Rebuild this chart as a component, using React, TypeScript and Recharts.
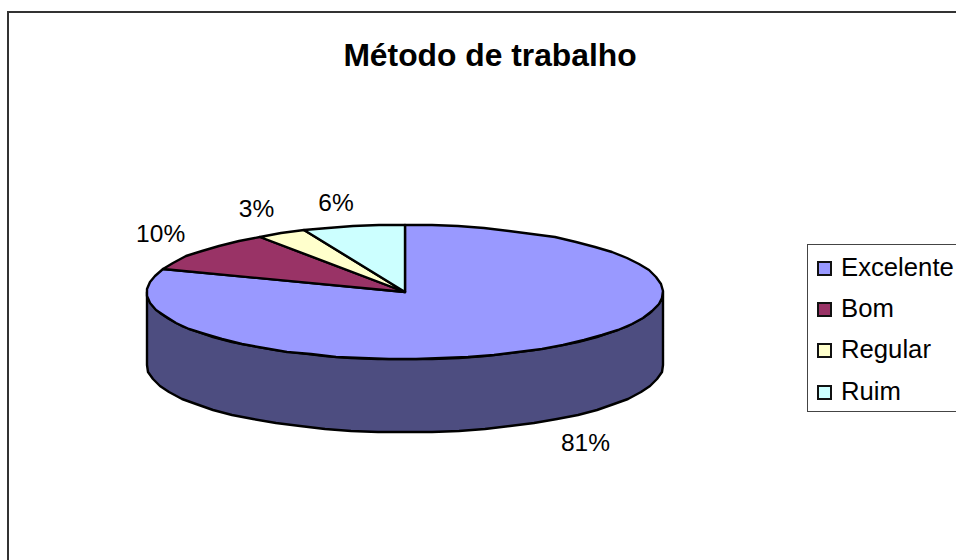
import React from "react";
import { PieChart, Pie, Cell, Legend } from "recharts";

const categories = ["Excelente", "Bom", "Regular", "Ruim"];
const values = [80.6, 9.9, 3.1, 6.4];
const topColors = ["#9999ff", "#993366", "#ffffcc", "#ccffff"];
const wallColors = ["#4d4d80", "#4d1a33", "#808066", "#668080"];
const title = "Método de trabalho";

const data = categories.map((name, i) => ({ name, value: values[i] }));

const FONT = "'Liberation Sans', Arial, sans-serif";
const RX = 258;
const RY = 67;
const DEPTH = 73;
const CX = 405;
const CY = 292;
const STEP = 6;
const EDGE = 2.4;

const rad = (a: number) => (a * Math.PI) / 180;
const pt = (cx: number, cy: number, a: number, dy = 0): [number, number] => [
  Math.round(cx + RX * Math.cos(rad(a))),
  Math.round(cy - RY * Math.sin(rad(a)) + dy),
];

function arc(cx: number, cy: number, from: number, to: number, dy = 0) {
  const out: [number, number][] = [];
  const n = Math.max(1, Math.ceil(Math.abs(to - from) / STEP));
  for (let i = 0; i <= n; i++) out.push(pt(cx, cy, from + ((to - from) * i) / n, dy));
  return out;
}
const toPath = (p: [number, number][]) => "M" + p.map((q) => q.join(",")).join("L") + "Z";

function TopSector(props: any) {
  const { cx, cy, startAngle, endAngle, fill } = props;
  const pts = [[cx, cy] as [number, number], ...arc(cx, cy, startAngle, endAngle)];
  return <path d={toPath(pts)} fill={fill} stroke="#000" strokeWidth={EDGE} strokeLinejoin="round" />;
}

function WallSector(props: any) {
  const { cx, cy, startAngle, endAngle, fill } = props;
  const hi = Math.min(Math.max(startAngle, endAngle), 0);
  const lo = Math.max(Math.min(startAngle, endAngle), -180);
  if (hi <= lo) return <g />;
  const pts = [...arc(cx, cy, lo, hi), ...arc(cx, cy, hi, lo, DEPTH)];
  return <path d={toPath(pts)} fill={fill} stroke="#000" strokeWidth={EDGE} strokeLinejoin="round" />;
}

function PctLabel(props: any) {
  const { cx, cy, midAngle, percent, index } = props;
  const s = Math.sin(rad(midAngle));
  const nudgeX = index === 3 ? -7 : index === 0 ? 3 : 0;
  const nudgeY = index === 3 ? 4 : 0;
  const x = cx + 310 * Math.cos(rad(midAngle)) + nudgeX;
  const y = cy - 95 * s + (s < 0 ? DEPTH : 0) + nudgeY;
  return (
    <text x={x} y={y} textAnchor="middle" dominantBaseline="central" fontFamily={FONT} fontSize={24.5} fill="#000">
      {Math.round(percent * 100)}%
    </text>
  );
}

function LegendBox() {
  return (
    <div
      style={{
        width: 170,
        height: 168,
        boxSizing: "border-box",
        border: "1.5px solid #444",
        background: "#fff",
        paddingTop: 1,
      }}
    >
      {categories.map((c, i) => (
        <div key={c} style={{ display: "flex", alignItems: "center", height: 41.4, fontFamily: FONT, fontSize: 25.7, color: "#000" }}>
          <span
            style={{
              width: 15,
              height: 15,
              boxSizing: "border-box",
              marginLeft: 9,
              marginRight: 9,
              border: "2px solid #111",
              background: topColors[i],
              flex: "none",
              marginTop: 3,
            }}
          />
          <span style={{ whiteSpace: "nowrap", lineHeight: "28px" }}>{c}</span>
        </div>
      ))}
    </div>
  );
}

export default function App() {
  return (
    <div style={{ position: "relative", width: 956, height: 560, overflow: "hidden" }}>
      <style>{"html,body{margin:0;padding:0;overflow:hidden}"}</style>
      <div
        style={{
          position: "absolute",
          left: 7,
          top: 11,
          width: 1000,
          height: 700,
          border: "2px solid #333",
          boxSizing: "border-box",
        }}
      />
      <PieChart width={956} height={560} margin={{ top: 0, right: 0, bottom: 0, left: 0 }}>
        <text x={490} y={66} textAnchor="middle" fontFamily={FONT} fontWeight="bold" fontSize={31.8} fill="#000">
          {title}
        </text>
        <Pie
          data={data}
          dataKey="value"
          nameKey="name"
          cx={CX}
          cy={CY}
          outerRadius={RX}
          startAngle={90}
          endAngle={-270}
          isAnimationActive={false}
          shape={WallSector}
          label={false}
          legendType="none"
        >
          {data.map((d, i) => (
            <Cell key={d.name} fill={wallColors[i]} />
          ))}
        </Pie>
        <Pie
          data={data}
          dataKey="value"
          nameKey="name"
          cx={CX}
          cy={CY}
          outerRadius={RX}
          startAngle={90}
          endAngle={-270}
          isAnimationActive={false}
          shape={TopSector}
          label={PctLabel}
          labelLine={false}
        >
          {data.map((d, i) => (
            <Cell key={d.name} fill={topColors[i]} />
          ))}
        </Pie>
        <Legend
          content={<LegendBox />}
          wrapperStyle={{ position: "absolute", left: 807, top: 244, width: 170, height: 168, bottom: "auto", right: "auto" }}
        />
      </PieChart>
    </div>
  );
}
